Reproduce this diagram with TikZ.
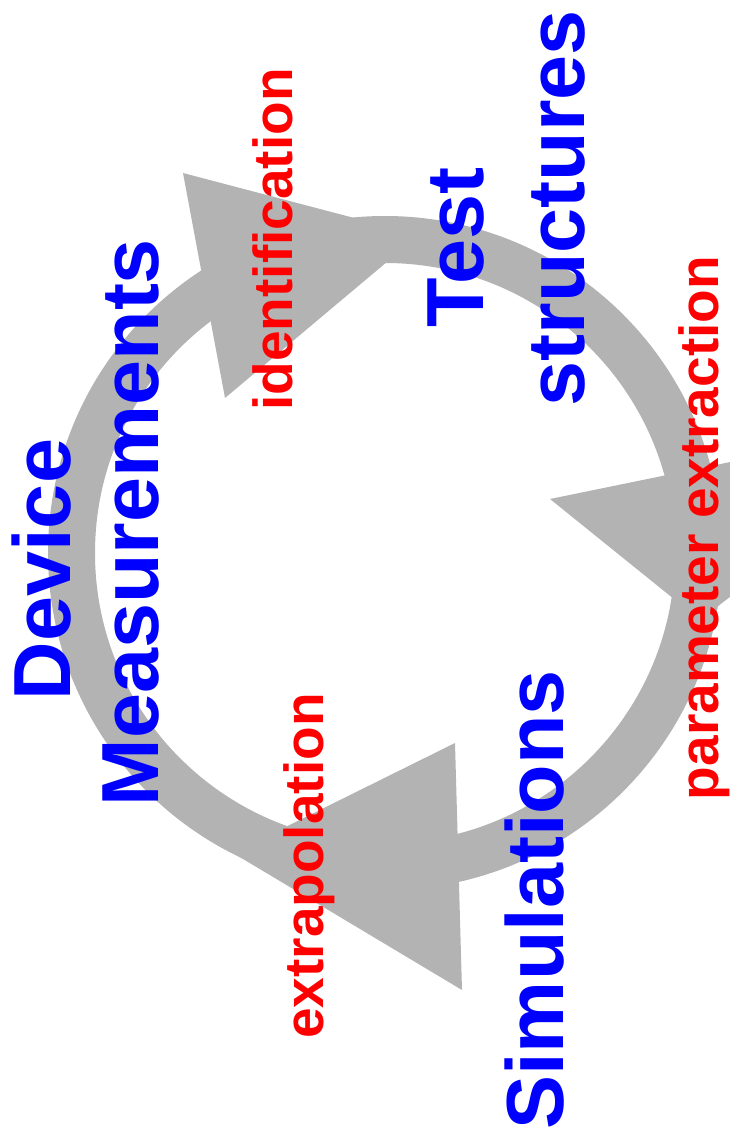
\documentclass[tikz,border=0pt]{standalone}
\usepackage{fontspec}
\setmainfont{Liberation Sans}
\definecolor{ringgray}{RGB}{179,179,179}
\definecolor{ttblue}{RGB}{0,0,255}
\definecolor{ttred}{RGB}{255,0,0}
\tikzset{
  big/.style={text=ttblue, font=\fontsize{81pt}{90pt}\selectfont\bfseries, rotate=90, anchor=base, inner sep=0pt},
  small/.style={text=ttred, font=\fontsize{55pt}{60pt}\selectfont\bfseries, rotate=90, anchor=base, inner sep=0pt},
  ringfill/.style={fill=ringgray, draw=none}
}
\begin{document}
\begin{tikzpicture}[x=1pt,y=-1pt]
\useasboundingbox (0,0) rectangle (730,1146);
\begin{scope}
\clip (0,0) rectangle (730,1146);
\coordinate (c) at (385,553);
% ring
\fill[ringfill, even odd rule] (c) circle[radius=337pt] (c) circle[radius=290pt];
% arrowheads
\fill[ringfill] (183,173) -- (419,235) -- (225,398) -- cycle;
\fill[ringfill] (550,499) -- (969,413) -- (700,620) -- cycle;
\fill[ringfill] (455,743) -- (462,990) -- (233,853) -- cycle;
\end{scope}
% labels
\node[big] (dev) at (70,569.5) {Device};
\node[big] (meas) at (158,522.5) {Measurements};
\node[big] (test) at (483,247.5) {Test};
\node[big] (struct) at (584,208) {structures};
\node[big] (sim) at (563,900) {Simulations};
\node[small] (ident) at (292,239.5) {identification};
\node[small] (param) at (718,528) {parameter extraction};
\node[small] (extra) at (323,866) {extrapolation};
\end{tikzpicture}
\end{document}
